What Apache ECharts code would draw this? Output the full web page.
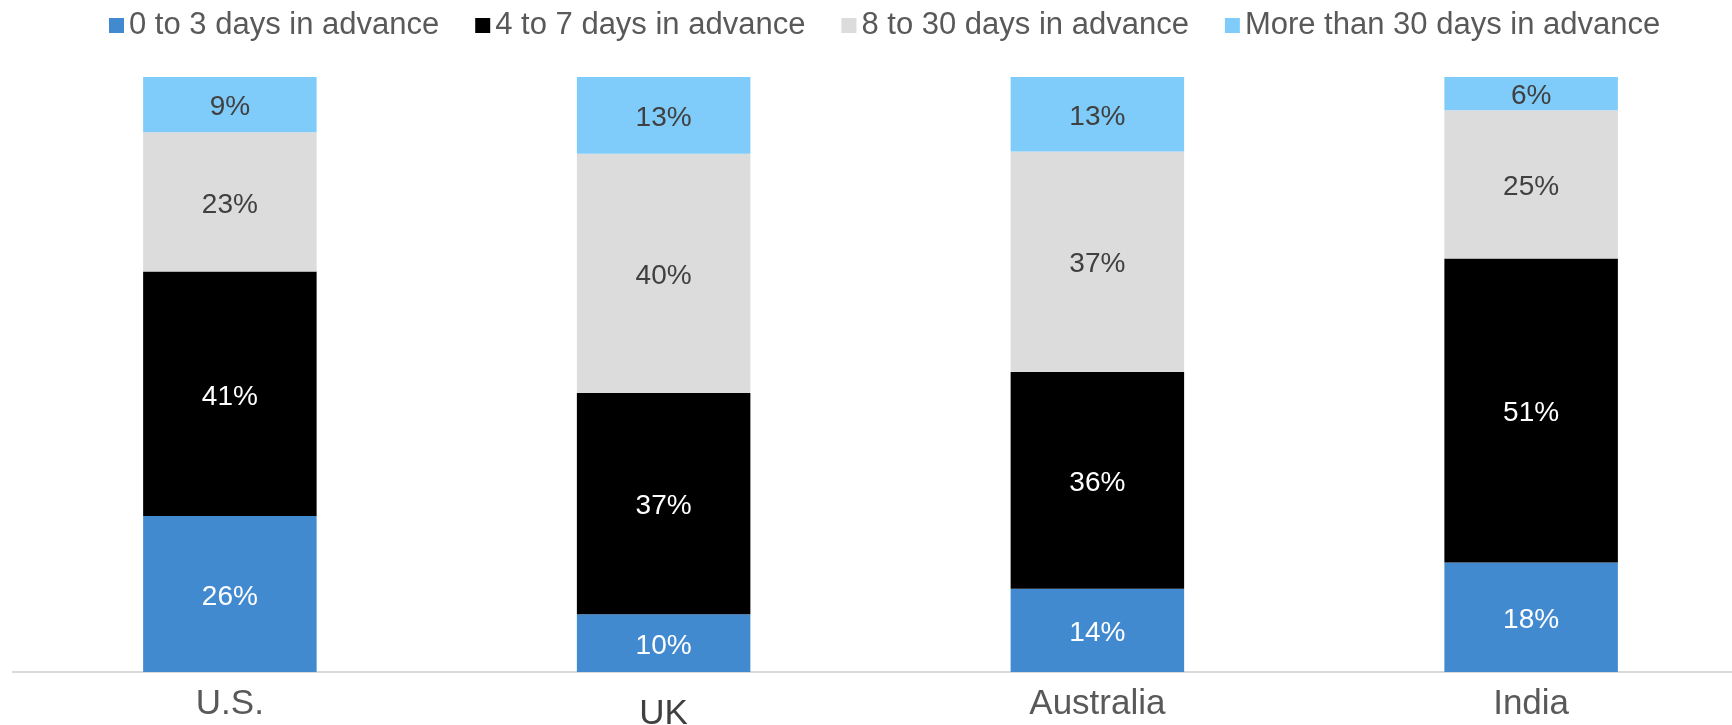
<!DOCTYPE html>
<html>
<head>
<meta charset="utf-8">
<script src="https://cdn.jsdelivr.net/npm/echarts@6/dist/echarts.min.js"></script>
<style>html,body{margin:0;padding:0;background:#fff}#c{width:1732px;height:725px}</style>
</head>
<body>
<div id="c"></div>
<script>
const categories = ['U.S.', 'UK', 'Australia', 'India'];
const seriesNames = ['0 to 3 days in advance', '4 to 7 days in advance', '8 to 30 days in advance', 'More than 30 days in advance'];
const days0to3 = [26.2, 9.7, 14.0, 18.4];
const days4to7 = [41.1, 37.2, 36.4, 51.1];
const days8to30 = [23.4, 40.2, 37.1, 24.9];
const daysOver30 = [9.3, 12.9, 12.6, 5.6];

const colors = ['#418AD0', '#000000', '#DCDCDC', '#7FCCFA'];
const labelColors = ['#ffffff', '#ffffff', '#404040', '#404040'];
const values = [days0to3, days4to7, days8to30, daysOver30];
const FONT = '"Liberation Sans", Arial, sans-serif';

const chart = echarts.init(document.getElementById('c'), null, {renderer: 'canvas'});
chart.setOption({
  animation: false,
  color: colors,
  legend: {
    left: 104, top: 5,
    itemWidth: 15, itemHeight: 15, itemGap: 36,
    icon: 'rect',
    textStyle: {fontFamily: FONT, fontSize: 31, color: '#595959'},
    data: seriesNames
  },
  grid: {left: 13, width: 1735, top: 77, height: 595, outerBoundsMode: 'none', containLabel: false},
  xAxis: {
    type: 'category',
    data: categories.map((c, i) => i === 1 ? {value: c, textStyle: {padding: [10, 0, 0, 0], color: '#404040'}} : c),
    axisLine: {lineStyle: {color: '#D9D9D9', width: 2}},
    axisTick: {show: false},
    axisLabel: {fontFamily: FONT, fontSize: 35, color: '#595959', margin: 15}
  },
  yAxis: {type: 'value', min: 0, max: 100, show: false, splitLine: {show: false}},
  series: seriesNames.map((name, i) => ({
    name: name,
    type: 'bar',
    stack: 'total',
    barWidth: '40%',
    data: values[i],
    itemStyle: {color: colors[i]},
    label: {
      show: true,
      position: 'inside',
      offset: [0, 3],
      fontFamily: FONT,
      fontSize: 28,
      color: labelColors[i],
      formatter: p => Math.round(p.value) + '%'
    }
  }))
});
</script>
</body>
</html>
